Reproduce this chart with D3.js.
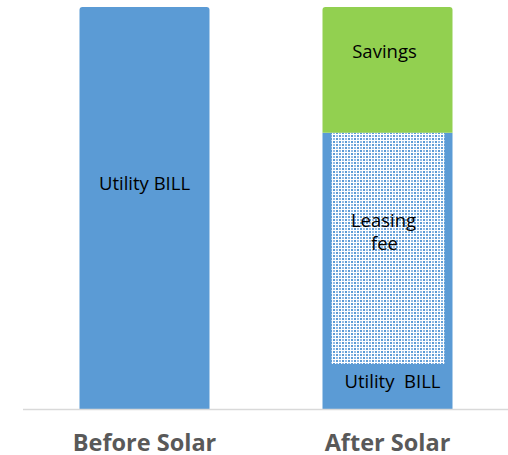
<!DOCTYPE html>
<html>
<head>
<meta charset="utf-8">
<script src="https://cdn.jsdelivr.net/npm/d3@7"></script>
<style>
  body { margin: 0; background: #fff; }
  svg { display: block; font-family: "Open Sans", "Noto Sans", sans-serif; }
</style>
</head>
<body>
<div id="chart"></div>
<script>
// chart data
const categories = ["Before Solar", "After Solar"];
const utilityBill = [100, 11.2];
const leasingFee = [0, 57.5];
const savings = [0, 31.3];

const w = 508;
const h = 455;

const svg = d3.select("#chart").append("svg")
  .attr("width", w)
  .attr("height", h);

// dotted fill for the leasing fee
const defs = svg.append("defs");
const pat = defs.append("pattern")
  .attr("id", "dots")
  .attr("patternUnits", "userSpaceOnUse")
  .attr("width", 6)
  .attr("height", 6);
pat.append("rect").attr("width", 6).attr("height", 6).attr("fill", "#fff");
pat.append("rect").attr("x", 0).attr("y", 0).attr("width", 2).attr("height", 2).attr("fill", "#5b9bd5");
pat.append("rect").attr("x", 3).attr("y", 3).attr("width", 2).attr("height", 2).attr("fill", "#5b9bd5");
pat.append("rect").attr("x", 3).attr("y", 0).attr("width", 2).attr("height", 2).attr("fill", "#96bce6");
pat.append("rect").attr("x", 0).attr("y", 3).attr("width", 2).attr("height", 2).attr("fill", "#96bce6");

const x = d3.scaleBand()
  .domain(categories)
  .range([23, 509])
  .paddingInner(0.465)
  .paddingOuter(0.2325);

const y = d3.scaleLinear()
  .domain([0, 100])
  .range([409, 7]);

// build stacked rows
const rows = categories.map((c, i) => ({
  cat: c, utility: utilityBill[i], leasing: leasingFee[i], savings: savings[i]
}));
const stack = d3.stack().keys(["utility", "leasing", "savings"])(rows);

// rounded top only (small radius)
function topRounded(x0, y0, width, height, r) {
  return `M${x0},${y0 + height}V${y0 + r}Q${x0},${y0} ${x0 + r},${y0}` +
    `H${x0 + width - r}Q${x0 + width},${y0} ${x0 + width},${y0 + r}V${y0 + height}Z`;
}

const g = svg.append("g");

// blue body (utility + leasing together)
g.selectAll(".blue").data(rows).enter().append("path")
  .attr("class", "blue")
  .attr("fill", "#5b9bd5")
  .attr("d", d => {
    const top = y(d.utility + d.leasing);
    return topRounded(x(d.cat), top, x.bandwidth(), y(0) - top, d.savings > 0 ? 0 : 3);
  });

// leasing fee dotted inset
const leasingLayer = stack[1];
g.selectAll(".lease").data(leasingLayer.filter(d => d[1] > d[0])).enter().append("rect")
  .attr("class", "lease")
  .attr("x", d => x(d.data.cat) + 9)
  .attr("y", d => y(d[1]))
  .attr("width", x.bandwidth() - 17)
  .attr("height", d => y(d[0]) - y(d[1]))
  .attr("fill", "url(#dots)");

// savings
const savLayer = stack[2];
g.selectAll(".sav").data(savLayer.filter(d => d[1] > d[0])).enter().append("path")
  .attr("class", "sav")
  .attr("fill", "#92d050")
  .attr("d", d => topRounded(x(d.data.cat), y(d[1]), x.bandwidth(), y(d[0]) - y(d[1]), 3));

// baseline
svg.append("line")
  .attr("x1", 23).attr("x2", 508)
  .attr("y1", y(0) + 0.5).attr("y2", y(0) + 0.5)
  .attr("stroke", "#d9d9d9")
  .attr("stroke-width", 1.5);

// segment labels
const cx = c => x(c) + x.bandwidth() / 2;
const lab = (xx, yy, t) => svg.append("text")
  .attr("x", xx).attr("y", yy)
  .attr("text-anchor", "middle")
  .attr("font-size", 18.5)
  .attr("fill", "#000")
  .style("white-space", "pre")
  .text(t);

lab(cx("Before Solar"), 190, "Utility BILL");
lab(cx("After Solar") - 3, 58, "Savings");
lab(cx("After Solar") - 4, 227, "Leasing");
lab(cx("After Solar") - 3, 250, "fee");
lab(cx("After Solar") + 5, 388, "Utility  BILL");

// category axis
const xAxis = svg.append("g")
  .attr("transform", `translate(0,${y(0)})`)
  .call(d3.axisBottom(x).tickSize(0).tickPadding(25));
xAxis.select(".domain").remove();
xAxis.selectAll("text")
  .attr("font-family", "Open Sans, sans-serif")
  .attr("font-size", 23.5)
  .attr("font-weight", "bold")
  .attr("fill", "#595959");
</script>
</body>
</html>
